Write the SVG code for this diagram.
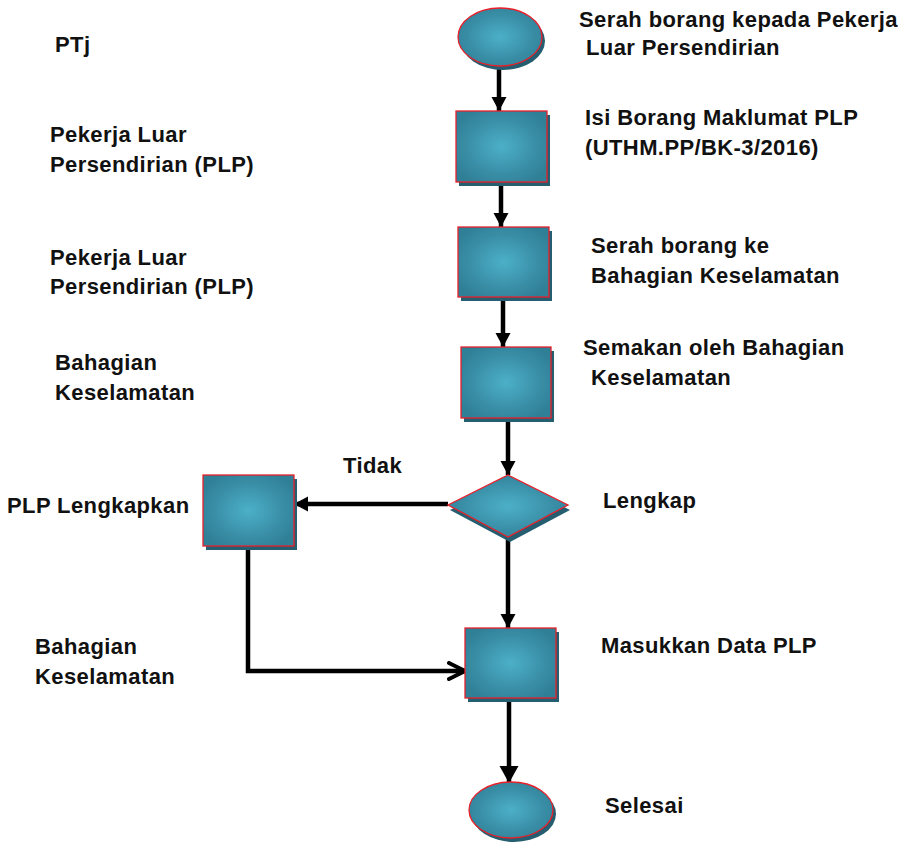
<svg xmlns="http://www.w3.org/2000/svg" width="915" height="843" viewBox="0 0 915 843">
<style>
text{font-family:"Liberation Sans",Arial,sans-serif;font-weight:bold;font-size:22px;letter-spacing:0.4px;fill:#111}
.shape{fill:url(#g);stroke:#e8202a;stroke-width:1.3}
.shadow{fill:#245e70}
.line{fill:none;stroke:#000;stroke-width:4.5}
</style>
<defs>
<radialGradient id="g" cx="50%" cy="50%" r="60%">
<stop offset="0" stop-color="#4cb0c8"/>
<stop offset="0.6" stop-color="#3a90a8"/>
<stop offset="1" stop-color="#2f7f96"/>
</radialGradient>
<marker id="ah" markerUnits="userSpaceOnUse" markerWidth="16" markerHeight="16" refX="14" refY="7.5" orient="auto">
<path d="M0,0 L14,7.5 L0,15 z" fill="#000"/>
</marker>
<marker id="ahb" markerUnits="userSpaceOnUse" markerWidth="20" markerHeight="20" refX="17" refY="9.5" orient="auto">
<path d="M0,0 L17,9.5 L0,19 z" fill="#000"/>
</marker>
<marker id="ao" markerUnits="userSpaceOnUse" markerWidth="24" markerHeight="24" refX="18" refY="10" orient="auto">
<path d="M2,2 L18,10 L2,18" fill="none" stroke="#000" stroke-width="4" stroke-linecap="round"/>
</marker>
</defs>

<g id="connectors">
<line class="line" x1="499" y1="66" x2="499" y2="111" marker-end="url(#ah)"/>
<line class="line" x1="501" y1="182" x2="501" y2="227" marker-end="url(#ah)"/>
<line class="line" x1="503" y1="297" x2="503" y2="347" marker-end="url(#ah)"/>
<line class="line" x1="508" y1="418" x2="508" y2="475" marker-end="url(#ah)"/>
<line class="line" x1="448" y1="504" x2="294" y2="504" marker-end="url(#ah)"/>
<line class="line" x1="508" y1="537" x2="508" y2="628" marker-end="url(#ah)"/>
<line class="line" x1="509" y1="698" x2="509" y2="783" stroke-width="6" marker-end="url(#ahb)"/>
<polyline class="line" points="248,546 248,671 465,671" marker-end="url(#ao)"/>
</g>

<g id="start">
<ellipse class="shadow" cx="503" cy="41" rx="42" ry="29"/>
<ellipse class="shape" cx="500" cy="37" rx="42" ry="29"/>
</g>
<g id="isi">
<rect class="shadow" x="459" y="115" width="91" height="71"/>
<rect class="shape" x="456" y="111" width="91" height="71"/>
</g>
<g id="serah">
<rect class="shadow" x="461" y="231" width="91" height="70"/>
<rect class="shape" x="458" y="227" width="91" height="70"/>
</g>
<g id="semakan">
<rect class="shadow" x="464" y="351" width="90" height="71"/>
<rect class="shape" x="461" y="347" width="90" height="71"/>
</g>
<g id="lengkap">
<polygon class="shadow" points="510,480 570,510 510,542 450,510"/>
<polygon class="shape" points="508,475 568,505 508,537 448,505"/>
</g>
<g id="plp-lengkapkan">
<rect class="shadow" x="206" y="479" width="91" height="71"/>
<rect class="shape" x="203" y="475" width="91" height="71"/>
</g>
<g id="masukkan">
<rect class="shadow" x="468" y="632" width="91" height="70"/>
<rect class="shape" x="465" y="628" width="91" height="70"/>
</g>
<g id="selesai">
<ellipse class="shadow" cx="514" cy="814" rx="42" ry="28"/>
<ellipse class="shape" cx="511" cy="810" rx="42" ry="28"/>
</g>

<g id="labels">
<text x="55" y="52">PTj</text>
<text x="50" y="142">Pekerja Luar</text>
<text x="50" y="172">Persendirian (PLP)</text>
<text x="50" y="265">Pekerja Luar</text>
<text x="50" y="294">Persendirian (PLP)</text>
<text x="55" y="370">Bahagian</text>
<text x="55" y="400">Keselamatan</text>
<text x="343" y="473">Tidak</text>
<text x="7" y="513">PLP Lengkapkan</text>
<text x="35" y="654">Bahagian</text>
<text x="35" y="684">Keselamatan</text>

<text x="579" y="27">Serah borang kepada Pekerja</text>
<text x="586" y="55">Luar Persendirian</text>
<text x="585" y="125">Isi Borang Maklumat PLP</text>
<text x="585" y="155">(UTHM.PP/BK-3/2016)</text>
<text x="591" y="253">Serah borang ke</text>
<text x="591" y="283">Bahagian Keselamatan</text>
<text x="583" y="355">Semakan oleh Bahagian</text>
<text x="591" y="385">Keselamatan</text>
<text x="603" y="508">Lengkap</text>
<text x="601" y="653">Masukkan Data PLP</text>
<text x="605" y="813">Selesai</text>
</g>
</svg>
